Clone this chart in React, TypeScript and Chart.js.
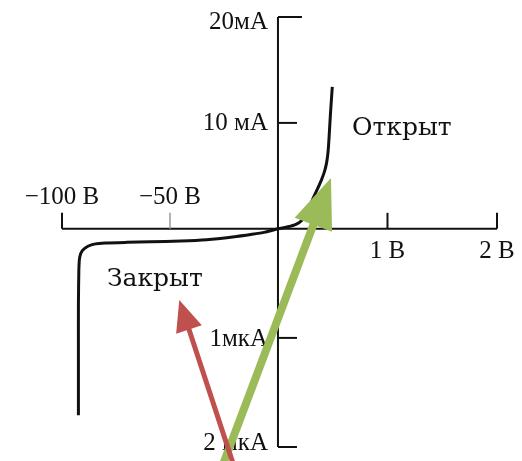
import React, { useEffect, useRef } from "react";
import { Chart, registerables } from "chart.js";

Chart.register(...registerables);

// Reverse branch (closed diode): voltage in volts, current in microamps
const reverseVolts = [-92.4, -92.4, -92.4, -92.2, -91.8, -90.6, -88.0, -84.5, -80, -70, -59, -45, -33, -21, -12, -6, 0];
const reverseMicroAmps = [-1.71, -1.2, -0.7, -0.38, -0.26, -0.2, -0.16, -0.138, -0.13, -0.124, -0.119, -0.112, -0.1, -0.075, -0.05, -0.03, 0];

// Forward branch (open diode): voltage in volts, current in milliamps
const forwardVolts = [0, 0.091, 0.164, 0.219, 0.26, 0.297, 0.329, 0.361, 0.399, 0.425, 0.443, 0.455, 0.462, 0.471, 0.479, 0.488, 0.496];
const forwardMilliAmps = [0, 0.19, 0.42, 0.8, 1.51, 2.31, 3.07, 3.77, 4.67, 5.42, 6.18, 7.03, 7.88, 9.39, 10.8, 12.2, 13.4];

// Axis ticks
const xTickVolts = [-100, -50, 1, 2];
const xTickLabels = ["−100 В", "−50 В", "1 В", "2 В"];
const yTickMilliAmps = [20, 10];
const yTickMilliAmpLabels = ["20мА", "10 мА"];
const yTickMicroAmps = [1, 2];
const yTickMicroAmpLabels = ["1мкА", "2 мкА"];

// Annotations: [volts-axis value, current-axis value] in display units
const openLabel = "Открыт";
const closedLabel = "Закрыт";
const openLabelPos = [0.676, 0.951];
const closedLabelPos = [-1.562, -0.474];

// Arrows: tail and tip in display units
const greenArrow = [-0.521, -2.278, 0.484, 0.48];
const redArrow = [-0.39, -2.278, -0.901, -0.672];

// Piecewise axes: negative volts at 50 V per (0.986) unit, positive at 1 V per unit;
// positive current at 10 mA per unit, negative current at 1 µA per 1.03 unit.
const NEG_X = 0.986;
const NEG_Y = 1.03;
const vx = (v: number) => (v < 0 ? (v / 50) * NEG_X : v);
const mA = (i: number) => i / 10;
const uA = (i: number) => -i * NEG_Y;

const curvePoints = [
  ...reverseVolts.map((v, k) => ({ x: vx(v), y: reverseMicroAmps[k] * NEG_Y })),
  ...forwardVolts.slice(1).map((v, k) => ({ x: vx(v), y: mA(forwardMilliAmps[k + 1]) })),
];

const AXIS_FONT = '25px "Liberation Serif", serif';
const WORD_FONT = '25px "DejaVu Serif", serif';
const INK = "#111";
const Y_LABEL_NUDGE = [5, 1, 2, -4];

function drawArrow(ctx: CanvasRenderingContext2D, x1: number, y1: number, x2: number, y2: number, color: string, width: number, headLen: number, headW: number) {
  const dx = x2 - x1, dy = y2 - y1;
  const len = Math.hypot(dx, dy);
  const ux = dx / len, uy = dy / len;
  const bx = x2 - ux * headLen, by = y2 - uy * headLen;
  ctx.save();
  ctx.strokeStyle = color;
  ctx.fillStyle = color;
  ctx.lineWidth = width;
  ctx.lineCap = "butt";
  ctx.beginPath();
  ctx.moveTo(x1, y1);
  ctx.lineTo(bx + ux * 2, by + uy * 2);
  ctx.stroke();
  ctx.beginPath();
  ctx.moveTo(x2, y2);
  ctx.lineTo(bx - uy * headW / 2, by + ux * headW / 2);
  ctx.lineTo(bx + uy * headW / 2, by - ux * headW / 2);
  ctx.closePath();
  ctx.fill();
  ctx.restore();
}

const axesPlugin = {
  id: "diodeAxes",
  beforeDatasetsDraw(chart: any) {
    const { ctx, scales } = chart;
    const x = scales.x, y = scales.y;
    const x0 = x.getPixelForValue(0);
    const y0 = y.getPixelForValue(0);
    ctx.save();
    ctx.strokeStyle = INK;
    ctx.lineWidth = 2;
    ctx.beginPath();
    ctx.moveTo(x.getPixelForValue(vx(-100)), y0);
    ctx.lineTo(x.getPixelForValue(vx(2)), y0);
    ctx.stroke();
    ctx.beginPath();
    ctx.moveTo(x0, y.getPixelForValue(mA(20)));
    ctx.lineTo(x0, y.getPixelForValue(uA(2)));
    ctx.stroke();

    // x ticks (upward) and labels
    ctx.font = AXIS_FONT;
    ctx.fillStyle = INK;
    xTickVolts.forEach((v, k) => {
      const px = x.getPixelForValue(vx(v));
      ctx.save();
      if (v === -50) {
        ctx.strokeStyle = "#9a9a9a";
        ctx.lineWidth = 1.5;
      }
      ctx.beginPath();
      ctx.moveTo(px, y0);
      ctx.lineTo(px, y0 - 16);
      ctx.stroke();
      ctx.restore();
      ctx.textAlign = "center";
      if (v < 0) {
        ctx.textBaseline = "alphabetic";
        ctx.fillText(xTickLabels[k], px, y0 - 25);
      } else {
        ctx.textBaseline = "middle";
        ctx.fillText(xTickLabels[k], px, y0 + 23);
      }
    });

    // y ticks (rightward) and labels
    const yTicks = [
      ...yTickMilliAmps.map((v, k) => ({ val: mA(v), label: yTickMilliAmpLabels[k] })),
      ...yTickMicroAmps.map((v, k) => ({ val: uA(v), label: yTickMicroAmpLabels[k] })),
    ];
    yTicks.forEach((t, k) => {
      const py = y.getPixelForValue(t.val);
      ctx.beginPath();
      ctx.moveTo(x0, py);
      ctx.lineTo(x0 + (k === 0 ? 24 : 19), py);
      ctx.stroke();
      ctx.textAlign = "right";
      ctx.textBaseline = "middle";
      ctx.fillText(t.label, x0 - 10, py + Y_LABEL_NUDGE[k]);
    });
    ctx.restore();
  },
  afterDraw(chart: any) {
    const { ctx, scales } = chart;
    const x = scales.x, y = scales.y;
    ctx.save();
    ctx.font = WORD_FONT;
    ctx.fillStyle = INK;
    ctx.textAlign = "left";
    ctx.textBaseline = "middle";
    ctx.fillText(openLabel, x.getPixelForValue(openLabelPos[0]), y.getPixelForValue(openLabelPos[1]));
    ctx.fillText(closedLabel, x.getPixelForValue(closedLabelPos[0]), y.getPixelForValue(closedLabelPos[1]));
    ctx.restore();

    const g = greenArrow, r = redArrow;
    drawArrow(ctx, x.getPixelForValue(g[0]), y.getPixelForValue(g[1]), x.getPixelForValue(g[2]), y.getPixelForValue(g[3]), "#9bbb59", 8, 50, 40);
    drawArrow(ctx, x.getPixelForValue(r[0]), y.getPixelForValue(r[1]), x.getPixelForValue(r[2]), y.getPixelForValue(r[3]), "#c0504d", 5, 31, 27);
  },
};

export default function App() {
  const ref = useRef<HTMLCanvasElement>(null);
  useEffect(() => {
    const chart = new Chart(ref.current as HTMLCanvasElement, {
      type: "scatter",
      data: {
        datasets: [
          {
            data: curvePoints,
            showLine: true,
            borderColor: INK,
            borderWidth: 3,
            pointRadius: 0,
            tension: 0.2,
            fill: false,
          } as any,
        ],
      },
      options: {
        animation: false,
        responsive: false,
        devicePixelRatio: 1,
        layout: { padding: { left: 62, right: 25, top: 17, bottom: 14 } },
        scales: {
          x: { type: "linear", min: vx(-100), max: 2, display: false },
          y: { type: "linear", min: uA(2), max: 2, display: false },
        },
        plugins: { legend: { display: false }, tooltip: { enabled: false } },
      },
      plugins: [axesPlugin],
    });
    return () => chart.destroy();
  }, []);
  return (
    <div style={{ position: "fixed", left: 0, top: 0, width: 522, height: 461, background: "#fff" }}>
      <canvas ref={ref} width={522} height={461} style={{ display: "block", width: 522, height: 461 }} />
    </div>
  );
}
